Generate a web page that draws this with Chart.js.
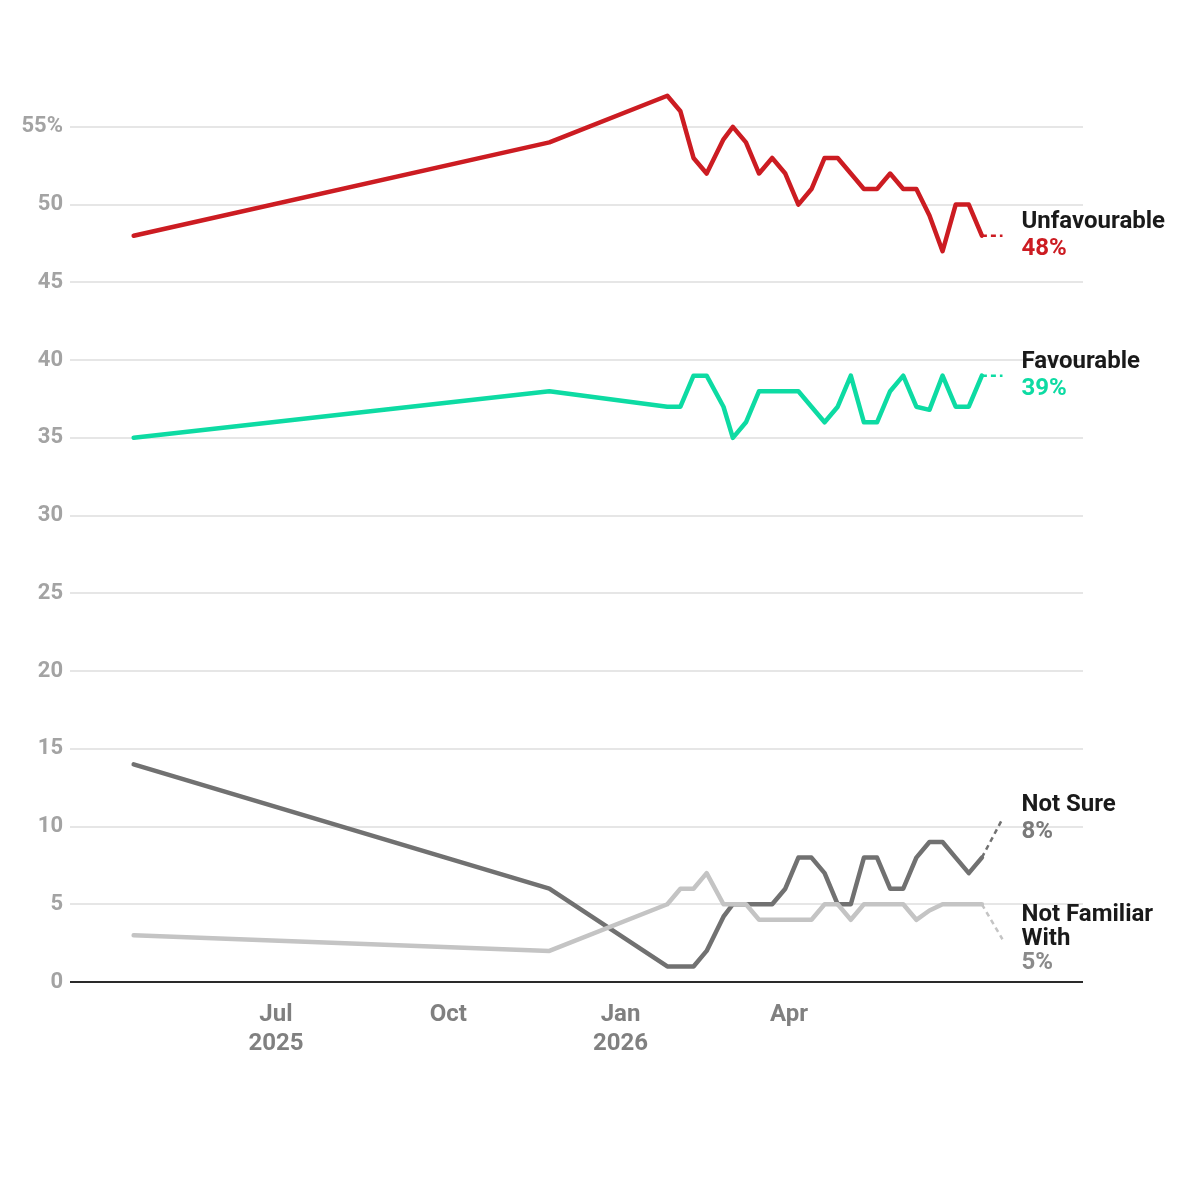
<!DOCTYPE html>
<html>
<head>
<meta charset="utf-8">
<script src="https://cdn.jsdelivr.net/npm/chart.js@4/dist/chart.umd.min.js"></script>
<style>
  html, body { margin: 0; padding: 0; background: #fff; }
  #wrap { width: 1200px; height: 1200px; position: relative; }
</style>
</head>
<body>
<div id="wrap"><canvas id="chart"></canvas></div>
<script>
// poll dates (first two are sparse, then roughly weekly)
const dates = ['2025-04-16', '2025-11-24',
  '2026-01-26', '2026-02-02', '2026-02-09', '2026-02-16', '2026-02-25',
  '2026-03-02', '2026-03-09', '2026-03-16', '2026-03-23', '2026-03-30',
  '2026-04-06', '2026-04-13', '2026-04-20', '2026-04-27', '2026-05-04',
  '2026-05-11', '2026-05-18', '2026-05-25', '2026-06-01', '2026-06-08',
  '2026-06-15', '2026-06-22', '2026-06-29', '2026-07-06', '2026-07-13'];

const unfavourable = [48, 54, 57, 56, 53, 52, 54.2, 55, 54, 52, 53, 52, 50, 51,
  53, 53, 52, 51, 51, 52, 51, 51, 49.3, 47, 50, 50, 48];
const favourable = [35, 38, 37, 37, 39, 39, 37, 35, 36, 38, 38, 38, 38, 37,
  36, 37, 39, 36, 36, 38, 39, 37, 36.8, 39, 37, 37, 39];
const notSure = [14, 6, 1, 1, 1, 2, 4.2, 5, 5, 5, 5, 6, 8, 8,
  7, 5, 5, 8, 8, 6, 6, 8, 9, 9, 8, 7, 8];
const notFamiliar = [3, 2, 5, 6, 6, 7, 5, 5, 5, 4, 4, 4, 4, 4,
  5, 5, 4, 5, 5, 5, 5, 4, 4.6, 5, 5, 5, 5];

// end labels: where the dashed connector ends
const labelDate = '2026-07-24';
const labelValues = [48, 39, 10.5, 2.75];
const labelNames = [['Unfavourable'], ['Favourable'], ['Not Sure'], ['Not Familiar', 'With']];
const labelPct = ['48%', '39%', '8%', '5%'];

const yTicks = [0, 5, 10, 15, 20, 25, 30, 35, 40, 45, 50, 55];
const xTickDates = ['2025-07-01', '2025-10-01', '2026-01-01', '2026-04-01'];
const xTickLabels = [['Jul', '2025'], 'Oct', ['Jan', '2026'], 'Apr'];
const xRange = ['2025-03-13', '2026-09-05'];

const colors = ['#cc1c22', '#0ddba3', '#717171', '#c4c4c4'];
const pctColors = ['#cc1c22', '#0ddba3', '#7a7a7a', '#8a8a8a'];

// days since 1 Jan 2026
function dayNum(s) {
  const p = s.split('-').map(Number);
  return (Date.UTC(p[0], p[1] - 1, p[2]) - Date.UTC(2026, 0, 1)) / 86400000;
}

const xs = dates.map(dayNum);
const series = [unfavourable, favourable, notSure, notFamiliar];

function pts(vals) {
  return vals.map((v, i) => ({x: xs[i], y: v}));
}

const datasets = [];
// first dataset ends on top, so light grey goes before dark grey
const drawOrder = [0, 1, 3, 2];
drawOrder.forEach(function(i) {
  datasets.push({
    data: pts(series[i]),
    borderColor: colors[i],
    borderWidth: 4.5,
    pointRadius: 0,
    tension: 0,
    borderJoinStyle: 'round',
    borderCapStyle: 'round'
  });
});
series.forEach(function(vals, i) {
  datasets.push({
    data: [{x: xs[xs.length - 1], y: vals[vals.length - 1]},
           {x: dayNum(labelDate), y: labelValues[i]}],
    borderColor: colors[i],
    borderWidth: 2.5,
    borderDash: [5, 4],
    pointRadius: 0
  });
});

const endLabels = {
  id: 'endLabels',
  afterDatasetsDraw(chart) {
    const c = chart.ctx;
    const xS = chart.scales.x, yS = chart.scales.y;
    const lx = xS.getPixelForValue(dayNum(labelDate)) + 19;
    c.save();
    c.textAlign = 'left';
    c.textBaseline = 'middle';
    labelNames.forEach(function(names, i) {
      const lines = names.length + 1;
      const lh = lines > 2 ? 24 : 27;
      const cy = yS.getPixelForValue(labelValues[i]);
      let y = cy - (lines - 1) * lh / 2;
      c.font = 'bold 24px Roboto';
      c.fillStyle = '#1a1a1a';
      names.forEach(function(n) {
        c.fillText(n, lx, y);
        y += lh;
      });
      c.fillStyle = pctColors[i];
      c.fillText(labelPct[i], lx, y);
    });
    c.restore();
  }
};

new Chart(document.getElementById('chart'), {
  type: 'line',
  data: {datasets: datasets},
  plugins: [endLabels],
  options: {
    responsive: true,
    maintainAspectRatio: false,
    animation: false,
    layout: {padding: {top: 88, right: 117, left: 0, bottom: 0}},
    plugins: {legend: {display: false}, tooltip: {enabled: false}},
    scales: {
      x: {
        type: 'linear',
        min: dayNum(xRange[0]),
        max: dayNum(xRange[1]),
        grid: {display: false},
        border: {display: false},
        afterBuildTicks: function(axis) {
          axis.ticks = xTickDates.map(d => ({value: dayNum(d)}));
        },
        afterFit: function(axis) { axis.height = 218; },
        ticks: {
          autoSkip: false,
          maxRotation: 0,
          padding: 11,
          color: '#808080',
          font: {family: 'Roboto', weight: 'bold', size: 24, lineHeight: 1.2},
          callback: function(v, idx) { return xTickLabels[idx]; }
        }
      },
      y: {
        min: 0,
        max: 57.5,
        border: {display: false},
        afterBuildTicks: function(axis) {
          axis.ticks = yTicks.map(v => ({value: v}));
        },
        afterFit: function(axis) { axis.width = 70; },
        grid: {
          drawTicks: false,
          color: ctx => ctx.tick && ctx.tick.value === 0 ? '#2a2a2a' : '#e6e6e6',
          lineWidth: 2
        },
        ticks: {
          padding: 7,
          color: '#a3a3a3',
          font: {family: 'Roboto', weight: 'bold', size: 22},
          callback: v => v === 55 ? '55%' : String(v)
        }
      }
    }
  }
});
</script>
</body>
</html>
